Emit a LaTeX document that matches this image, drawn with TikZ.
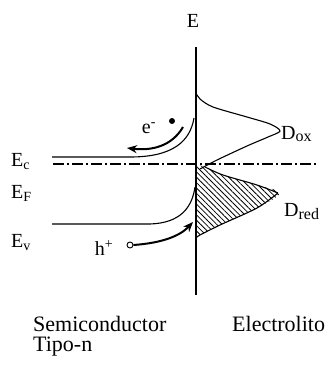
\documentclass[tikz,border=0pt]{standalone}
\usepackage{fontspec}
\setmainfont{Liberation Serif}
\usetikzlibrary{arrows.meta,patterns.meta}
\begin{document}
\begin{tikzpicture}[x=1pt,y=-1pt,
  lbl/.style={inner sep=0pt,font=\fontsize{20}{23}\selectfont},
  big/.style={inner sep=0pt,font=\fontsize{22}{25}\selectfont},
  curve/.style={line width=1.1pt},
  axis/.style={line width=1.5pt},
  thickarrow/.style={line width=2pt,-{Stealth[length=10pt,width=8pt]}}]
\useasboundingbox[fill=white] (0,0) rectangle (328,373);
% axis
\coordinate (atop) at (196,47);
\coordinate (abot) at (196,295);
\node[lbl] (E) at (193,21) {E};
% hatched D_red region
\path[pattern={Lines[angle=-45,distance=3.8pt,line width=0.8pt]}]
  (196,164) -- (205,167) -- plot[smooth] coordinates {(205,167) (223,175) (257,185) (280,193) (257,208) (220,225) (200,235) (196,238)} -- cycle;
\draw[curve] plot[smooth] coordinates {(205,167) (223,175) (257,185) (278,193)};
\draw[curve] plot[smooth] coordinates {(278,193) (257,208) (220,225) (200,235) (196,238)};
% D_ox curve
\draw[curve] plot[smooth] coordinates {(196,93) (200,99) (213,107) (247,117) (270,124) (280,131) (268,137) (247,146) (217,160) (200,169)};
% dash-dot line
\draw[line width=1.4pt,dash pattern=on 11pt off 3pt on 2pt off 3pt] (53,164) -- (318,164);
% bands
\draw[curve] (52,157) -- (130,157) .. controls (172,157) and (190,142) .. (194,118);
\draw[curve] (52,224) -- (150,224) .. controls (180,223) and (192,208) .. (195,187);
\draw[axis] (atop) -- (abot);
% labels left
\node[lbl,anchor=base west] (Ec) at (11,166) {E\textsubscript{c}};
\node[lbl,anchor=base west] (EF) at (11,198) {E\textsubscript{F}};
\node[lbl,anchor=base west] (Ev) at (11,247) {E\textsubscript{v}};
% D labels
\node[lbl,anchor=west] (Dox) at (281,134) {D{\fontsize{16}{18}\selectfont\raisebox{-2pt}{ox}}};
\node[lbl,anchor=west] (Dred) at (284,212) {D{\fontsize{16}{18}\selectfont\raisebox{-3pt}{red}}};
% electron
\node[lbl] (el) at (149,128) {e\textsuperscript{-}};
\node[circle,fill=black,inner sep=0pt,minimum size=6pt] (dot) at (172,121) {};
\coordinate (estart) at (183,127);
\coordinate (eend) at (127,148);
\draw[thickarrow] (estart) .. controls (172,146) and (152,151) .. (eend);
% hole
\node[lbl] (h) at (104,248) {h\textsuperscript{+}};
\node[circle,draw,line width=0.9pt,inner sep=0pt,minimum size=6pt] (hole) at (130,245) {};
\coordinate (hend) at (193,222);
\draw[thickarrow] (hole.east) .. controls (162,243) and (180,236) .. (hend);
% bottom labels
\node[big,anchor=base west] (sc) at (33,331) {Semiconductor};
\node[big,anchor=base west] (tn) at (33,351) {Tipo-n};
\node[big,anchor=base west] (el2) at (232,331) {Electrolito};
\end{tikzpicture}
\end{document}
